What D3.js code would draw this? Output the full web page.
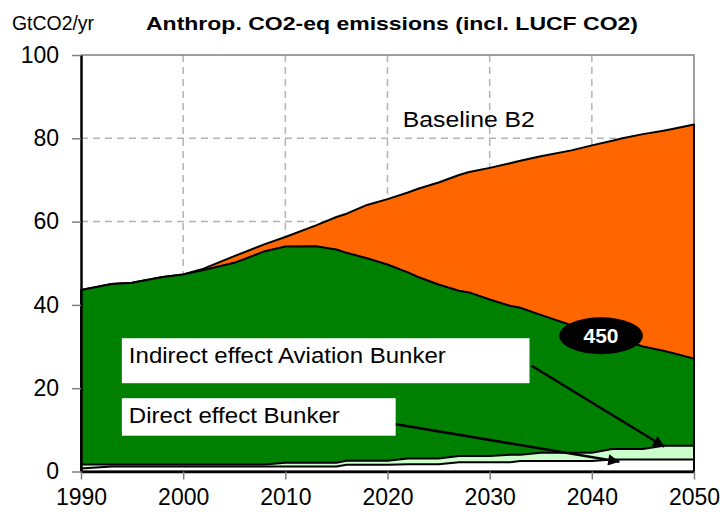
<!DOCTYPE html>
<html>
<head>
<meta charset="utf-8">
<script src="https://cdn.jsdelivr.net/npm/d3@7"></script>
<style>
  body { margin: 0; background: #fff; }
  svg { display: block; font-family: "Liberation Sans", Arial, sans-serif; }
  .tick text { fill: #000; }
</style>
</head>
<body>
<svg id="chart" width="724" height="517"></svg>
<script>
// years
const years = [1990, 1993, 1995, 1998, 2000, 2002, 2005, 2008, 2010, 2013, 2015, 2016, 2018, 2020, 2022, 2023, 2025, 2027, 2028, 2030, 2032, 2033, 2035, 2038, 2040, 2042, 2043, 2045, 2047, 2048, 2050];

// Baseline B2 total (GtCO2-eq/yr)
const baselineB2 = [43.6, 45.0, 45.3, 46.7, 47.3, 48.7, 51.7, 54.6, 56.3, 59.1, 61.1, 61.9, 64.0, 65.4, 67.0, 67.9, 69.4, 71.2, 71.9, 72.9, 74.0, 74.6, 75.7, 77.1, 78.3, 79.4, 80.0, 81.0, 81.8, 82.3, 83.3];

// 450 scenario total
const scen450 = [43.6, 45.0, 45.3, 46.7, 47.3, 48.4, 50.1, 52.9, 54.0, 54.1, 53.3, 52.5, 51.2, 49.7, 47.8, 46.7, 44.9, 43.4, 43.0, 41.3, 39.8, 39.3, 37.6, 35.1, 33.6, 32.3, 31.6, 30.0, 29.0, 28.4, 27.1];

// top of "Indirect effect Aviation Bunker" band
const indirectTop = [1.7, 1.7, 1.7, 1.7, 1.7, 1.7, 1.7, 1.7, 2.1, 2.1, 2.1, 2.6, 2.6, 2.6, 3.1, 3.1, 3.1, 3.7, 3.7, 3.7, 4.0, 4.0, 4.5, 4.5, 4.5, 5.4, 5.4, 5.4, 6.2, 6.2, 6.2];

// top of "Direct effect Bunker" band
const directTop = [0.7, 1.2, 1.2, 1.2, 1.2, 1.2, 1.2, 1.2, 1.2, 1.2, 1.2, 1.6, 1.6, 1.6, 1.75, 1.75, 1.75, 2.2, 2.2, 2.2, 2.2, 2.5, 2.5, 2.5, 2.5, 2.9, 2.9, 2.9, 2.9, 2.9, 2.9];

const xTicks = [1990, 2000, 2010, 2020, 2030, 2040, 2050];
const yTicks = [0, 20, 40, 60, 80, 100];

const svg = d3.select("#chart");
const margin = { top: 55, right: 30, bottom: 45.5, left: 81 };
const W = 724, H = 517;

const x = d3.scaleLinear().domain([1990, 2050]).range([margin.left, W - margin.right]);
const y = d3.scaleLinear().domain([0, 100]).range([H - margin.bottom, margin.top]);

// dashed grid
const grid = svg.append("g");
grid.selectAll(".hg")
    .data(yTicks.filter(v => v > 0 && v < 100))
    .enter().append("line")
    .attr("x1", x(1990)).attr("x2", x(2050))
    .attr("y1", d => y(d)).attr("y2", d => y(d))
    .attr("stroke", "#b3b3b3").attr("stroke-width", 1.5)
    .attr("stroke-dasharray", "7,5");
grid.selectAll(".vg")
    .data(xTicks.filter(v => v > 1990 && v < 2050))
    .enter().append("line")
    .attr("x1", d => x(d)).attr("x2", d => x(d))
    .attr("y1", y(100)).attr("y2", y(0))
    .attr("stroke", "#b3b3b3").attr("stroke-width", 1.5)
    .attr("stroke-dasharray", "7,5");

// frame top + right
svg.append("path")
    .attr("d", `M${x(1990)},${y(100)}H${x(2050)}V${y(0)}`)
    .attr("fill", "none").attr("stroke", "#808080").attr("stroke-width", 1.5);

// stacked areas (each drawn from 0, later ones on top)
const layers = [
    { vals: baselineB2, fill: "#FF6600" },
    { vals: scen450, fill: "#008000" },
    { vals: indirectTop, fill: "#CCFFCC" },
    { vals: directTop, fill: "#FFFFFF" }
];

const area = d3.area()
    .x((d, i) => x(years[i]))
    .y0(y(0))
    .y1(d => y(d));

svg.append("g").selectAll("path")
    .data(layers)
    .enter().append("path")
    .attr("d", d => area(d.vals))
    .attr("fill", d => d.fill)
    .attr("stroke", "#000")
    .attr("stroke-width", 2)
    .attr("stroke-linejoin", "round");

// axes
const yAxis = svg.append("g")
    .attr("transform", `translate(${margin.left},0)`)
    .call(d3.axisLeft(y).tickValues(yTicks).tickSize(9).tickPadding(13).tickSizeOuter(0));
const xAxis = svg.append("g")
    .attr("transform", `translate(0,${y(0)})`)
    .call(d3.axisBottom(x).tickValues(xTicks).tickFormat(d3.format("d")).tickSize(8).tickPadding(9).tickSizeOuter(0));

[yAxis, xAxis].forEach(ax => {
    ax.select(".domain").attr("stroke", "#000").attr("stroke-width", 2.5);
    ax.selectAll(".tick line").attr("stroke", "#808080").attr("stroke-width", 1.5);
    ax.selectAll(".tick text").style("font-size", "23px");
});

// titles
svg.append("text")
    .attr("x", 12).attr("y", 30)
    .attr("textLength", 82).attr("lengthAdjust", "spacingAndGlyphs")
    .style("font-size", "20px")
    .text("GtCO2/yr");
svg.append("text")
    .attr("x", 146).attr("y", 30)
    .attr("textLength", 492).attr("lengthAdjust", "spacingAndGlyphs")
    .style("font-size", "19px").style("font-weight", "bold")
    .text("Anthrop. CO2-eq emissions (incl. LUCF CO2)");

// Baseline label
svg.append("text")
    .attr("x", x(2021.5)).attr("y", y(82.8))
    .attr("textLength", 132).attr("lengthAdjust", "spacingAndGlyphs")
    .style("font-size", "22px")
    .text("Baseline B2");

// arrow marker
svg.append("defs").append("marker")
    .attr("id", "arr")
    .attr("viewBox", "0 0 10 10")
    .attr("refX", 10).attr("refY", 5)
    .attr("markerWidth", 5.5).attr("markerHeight", 4.5)
    .attr("markerUnits", "strokeWidth")
    .attr("orient", "auto")
    .append("path").attr("d", "M0,0L10,5L0,10z").attr("fill", "#000");

// annotation boxes
const notes = [
    { text: "Indirect effect Aviation Bunker", x0: 1994.0, x1: 2033.9, yTop: 32.0, yBot: 21.2, base: 26.0, len: 317,
      from: [2034.1, 25.4], to: [2047.1, 5.95] },
    { text: "Direct effect Bunker", x0: 1994.0, x1: 2020.8, yTop: 17.6, yBot: 8.6, base: 11.7, len: 211,
      from: [2020.7, 11.4], to: [2042.7, 2.35] }
];

notes.forEach(n => {
    svg.append("line")
        .attr("x1", x(n.from[0])).attr("y1", y(n.from[1]))
        .attr("x2", x(n.to[0])).attr("y2", y(n.to[1]))
        .attr("stroke", "#000").attr("stroke-width", 2.5)
        .attr("marker-end", "url(#arr)");
    svg.append("rect")
        .attr("x", x(n.x0)).attr("y", y(n.yTop))
        .attr("width", x(n.x1) - x(n.x0)).attr("height", y(n.yBot) - y(n.yTop))
        .attr("fill", "#fff");
    svg.append("text")
        .attr("x", x(n.x0) + 7).attr("y", y(n.base))
        .attr("textLength", n.len).attr("lengthAdjust", "spacingAndGlyphs")
        .style("font-size", "22px")
        .text(n.text);
});

// 450 badge
svg.append("ellipse")
    .attr("cx", x(2040.9)).attr("cy", y(32.6))
    .attr("rx", 42).attr("ry", 18.5)
    .attr("fill", "#000");
svg.append("text")
    .attr("x", x(2040.9)).attr("y", y(32.6) + 7.5)
    .attr("text-anchor", "middle")
    .style("font-size", "21px").style("font-weight", "bold")
    .attr("fill", "#fff")
    .text("450");
</script>
</body>
</html>
